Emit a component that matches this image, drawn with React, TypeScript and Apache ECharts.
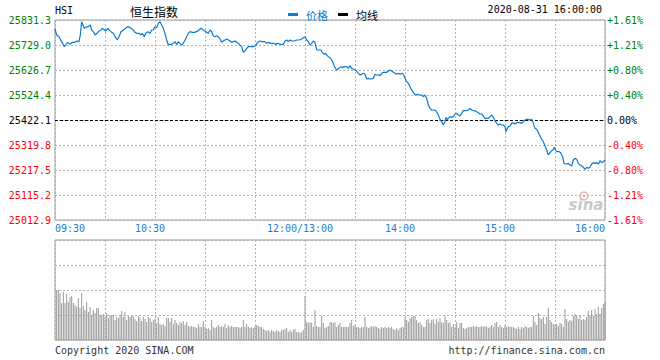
import React, { useEffect, useRef } from 'react';
import * as echarts from 'echarts';

const PREV_CLOSE = 25422.1;
const TITLE = '恒生指数';
const SYMBOL = 'HSI';
const DATE_TEXT = '2020-08-31 16:00:00';
const LEGEND_PRICE = '价格';
const LEGEND_AVG = '均线';
const FOOTER_LEFT = 'Copyright 2020 SINA.COM';
const FOOTER_RIGHT = 'http://finance.sina.com.cn';

// minute offset from 09:30 (lunch break collapsed: 150 = 12:00/13:00)
const timeTickMinutes = [0, 60, 150, 210, 270, 330];
const timeTickLabels = ['09:30', '10:30', '12:00/13:00', '14:00', '15:00', '16:00'];

const priceMinutes = [
  0, 1, 2.4, 4, 5.6, 6.4, 7.6, 9, 10.4, 12, 13.2, 14.4, 15.2, 16, 17.6, 19, 20, 21.2, 22, 23, 24, 25.2, 26.4, 27.6, 28.4, 29.6,
  30.4, 31.6, 32.4, 33.6, 35, 36.4, 37.4, 38.4, 39.6, 41, 42.4, 43.6, 45, 46.4, 47.6, 49, 50.4, 51.6, 52.4, 53.6, 54.4, 55.6,
  57, 58, 59, 60, 61, 62, 63, 64, 65, 66, 67, 68, 69, 70, 71, 72, 73, 74, 75, 76, 77, 78, 79, 80, 81, 82.4, 83.6, 85, 86.4,
  87.6, 89, 90, 91, 92, 93, 94, 95, 96, 97, 98, 99, 100, 101, 102, 103, 104, 105, 106, 107, 108, 109, 110, 111,
  112, 113, 114, 115, 116, 117.6, 119, 120.4, 121.6, 123, 124.4, 126, 127, 128, 129.6, 131, 132, 133.6, 135, 137, 138, 139,
  140, 141, 142, 143.6, 145, 146.4, 148, 149, 150, 151, 152, 153, 154, 155, 156, 157, 158, 159.6, 160.4, 161.6, 162.4, 163,
  164, 165, 166, 167, 168, 169, 170.4, 171.6, 172.4, 173.6, 175, 176, 177, 178, 179, 180, 181, 182, 183, 184, 185, 186, 187,
  188, 189, 190, 191, 192, 193, 194, 195, 196, 197, 198, 199, 200, 201, 202, 203, 204, 205, 206, 207, 208, 209, 210, 211,
  212, 213, 214, 215, 216, 217.6, 219, 220, 221,
  222, 223, 224, 225, 226, 227.4, 228.6, 230, 231, 232, 233, 234, 234.6, 235.4, 236, 237, 238, 239, 240, 241, 242, 243, 244,
  245, 246.6, 248, 249, 250, 251, 252, 253, 254, 255, 256, 257, 258, 259, 260, 261, 262, 263, 264, 265, 266, 267, 268, 269,
  270, 270.6, 271.4, 272, 273, 274, 275, 276, 277, 278, 279, 280, 281, 282, 283, 284, 285, 286, 287, 288, 289, 290, 291, 292,
  293, 294, 295, 296, 297, 298, 299, 299.6, 300.6, 301.4, 302.6, 303.4, 304.6, 305.4, 306.2, 307, 308, 309, 310, 311, 312,
  313, 314, 315, 316, 317, 318, 319, 320, 321, 322, 323, 324, 325, 326, 327, 328, 329, 330,
];

const priceValues = [
  25794.5, 25770.0, 25763.1, 25742.7, 25722.2, 25729.0, 25739.9, 25731.8, 25739.9, 25739.9, 25745.4, 25742.7, 25770.0, 25824.5,
  25797.2, 25804.1, 25804.1, 25810.9, 25790.4, 25783.6, 25770.0, 25776.8, 25786.3, 25790.4, 25797.2, 25790.4,
  25786.3, 25797.2, 25790.4, 25783.6, 25776.8, 25759.0, 25749.5, 25763.1, 25783.6, 25790.4, 25797.2, 25804.1, 25800.0, 25794.5,
  25783.6, 25776.8, 25776.8, 25770.0, 25776.8, 25763.1, 25776.8, 25783.6,
  25776.8, 25790.4, 25790.4, 25804.1, 25800.0, 25817.7, 25824.5, 25810.9, 25797.2, 25776.8, 25749.5, 25729.0, 25731.8, 25731.8,
  25735.8, 25742.7, 25731.8, 25742.7, 25735.8, 25729.0, 25735.8, 25749.5, 25763.1, 25776.8, 25783.6, 25780.8, 25780.8, 25783.6,
  25790.4, 25797.2, 25790.4, 25786.3, 25780.8, 25776.8, 25790.4, 25783.6, 25767.2, 25763.1, 25767.2, 25763.1, 25753.5, 25739.9,
  25745.4, 25749.5, 25753.5, 25749.5, 25745.4, 25739.9, 25742.7, 25745.4, 25739.9, 25735.8, 25729.0,
  25722.2, 25699.0, 25704.5, 25715.4, 25722.2, 25722.2, 25722.2, 25726.3, 25739.9, 25745.4, 25742.7, 25742.7, 25735.8, 25739.9,
  25735.8, 25735.8, 25731.8, 25735.8, 25731.8, 25731.8, 25745.4, 25749.5,
  25742.7, 25749.5, 25745.4, 25745.4, 25749.5, 25749.5, 25753.5, 25759.0, 25763.1, 25749.5, 25742.7, 25729.0, 25735.8, 25745.4,
  25739.9, 25708.6, 25708.6, 25708.6, 25699.0, 25690.8, 25694.9, 25688.1,
  25681.3, 25677.2, 25667.7, 25654.0, 25636.3, 25626.7, 25633.5, 25640.4, 25636.3, 25640.4, 25640.4, 25633.5, 25644.4, 25633.5,
  25630.8, 25626.7, 25622.6, 25613.1, 25606.3, 25609.0, 25613.1, 25609.0, 25589.9,
  25592.6, 25589.9, 25589.9, 25592.6, 25609.0, 25606.3, 25606.3, 25603.5, 25613.1, 25617.2, 25617.2, 25617.2, 25622.6, 25626.7,
  25622.6, 25617.2, 25613.1, 25609.0, 25613.1, 25609.0, 25613.1, 25609.0, 25592.6, 25579.0,
  25572.1, 25558.5, 25544.9, 25535.3, 25524.4, 25527.2, 25524.4, 25524.4, 25517.6,
  25524.4, 25510.8, 25483.5, 25469.8, 25463.0, 25463.0, 25460.3, 25442.6, 25424.8, 25415.3, 25401.6, 25415.3, 25433.0, 25422.1,
  25428.9, 25435.7, 25433.0, 25435.7, 25446.7, 25449.4, 25442.6, 25438.5, 25449.4,
  25460.3, 25460.3, 25463.0, 25469.8, 25463.0, 25460.3, 25460.3, 25456.2, 25452.1, 25446.7, 25446.7, 25438.5, 25428.9, 25428.9,
  25428.9, 25435.7, 25442.6, 25433.0, 25419.4, 25408.5, 25401.6, 25405.7, 25401.6, 25401.6,
  25394.8, 25374.4, 25388.0, 25394.8, 25397.5, 25408.5, 25411.2, 25405.7, 25411.2, 25411.2, 25411.2, 25408.5, 25415.3, 25422.1,
  25424.8, 25424.8, 25422.1, 25424.8, 25408.5, 25388.0, 25383.9, 25370.3, 25356.6, 25343.0,
  25333.4, 25315.7, 25299.2, 25278.9, 25288.4, 25296.6, 25302.1, 25310.3, 25296.6, 25292.5, 25292.5, 25288.4, 25272.1, 25244.8,
  25242.1, 25242.1, 25244.8, 25238.0, 25233.9, 25258.4, 25265.2,
  25261.1, 25244.8, 25238.0, 25233.9, 25228.4, 25220.2, 25228.4, 25224.3, 25228.4, 25242.1, 25247.5, 25244.8, 25247.5, 25242.1,
  25255.7, 25247.5, 25251.6, 25258.4,
];

// volume per minute, minutes 1..330 (relative units)
const volumeValues = [
  50, 50, 47, 37, 48, 37, 46, 38, 43, 44, 37, 35, 33, 42, 32, 47, 34, 30, 38, 28,
  33, 25, 30, 27, 32, 32, 25, 25, 26, 23, 27, 22, 25, 24, 25, 20, 23, 22, 25, 29,
  23, 28, 20, 24, 23, 24, 24, 21, 19, 24, 22, 19, 23, 21, 18, 23, 22, 18, 20, 21,
  17, 23, 16, 15, 16, 14, 22, 22, 18, 22, 16, 20, 17, 15, 18, 17, 19, 15, 18, 14,
  13, 14, 13, 13, 12, 16, 13, 13, 19, 13, 11, 12, 10, 20, 13, 12, 13, 15, 13, 14,
  13, 16, 12, 15, 13, 14, 13, 13, 13, 13, 12, 13, 20, 13, 16, 13, 12, 13, 12, 14,
  15, 14, 13, 13, 11, 10, 9, 10, 8, 10, 9, 8, 10, 9, 8, 10, 10, 11, 12, 8,
  10, 8, 10, 11, 8, 8, 7, 8, 10, 44, 18, 17, 18, 17, 13, 30, 14, 13, 13, 24,
  17, 12, 13, 14, 18, 18, 17, 18, 13, 15, 17, 13, 13, 13, 13, 13, 17, 20, 14, 15,
  13, 13, 12, 13, 13, 23, 13, 12, 13, 14, 13, 14, 13, 12, 11, 13, 12, 13, 12, 13,
  12, 13, 11, 10, 12, 10, 12, 13, 13, 23, 20, 18, 22, 23, 24, 24, 20, 17, 18, 15,
  13, 13, 20, 21, 17, 20, 21, 16, 21, 18, 22, 18, 17, 24, 20, 17, 18, 13, 16, 13,
  18, 12, 17, 17, 12, 11, 12, 13, 13, 13, 14, 13, 14, 13, 13, 14, 13, 14, 13, 12,
  13, 15, 13, 17, 18, 13, 15, 13, 12, 15, 13, 14, 13, 13, 13, 12, 11, 13, 11, 13,
  12, 14, 13, 12, 13, 13, 24, 18, 15, 27, 22, 21, 23, 16, 23, 32, 20, 18, 16, 15,
  16, 14, 17, 16, 13, 31, 21, 18, 20, 19, 24, 26, 24, 21, 25, 20, 21, 20, 23, 29,
  25, 30, 24, 31, 26, 33, 26, 32, 36, 38,
];

const GREEN = '#008000';
const RED = '#ff0000';
const BLUE = '#0a7bd4';
const MONO = 'DejaVu Sans Mono';
const CJK = 'Noto Sans CJK SC';

// y values in tenths of a point relative to previous close
const Y_STEP = 1023;
const Y_MIN = -4 * Y_STEP;
const Y_MAX = 4 * Y_STEP;

const labelColor = (v: any) => {
  const n = Number(v);
  if (n > 0.5) return GREEN;
  if (n < -0.5) return RED;
  return '#000';
};

export default function App() {
  const ref = useRef<HTMLDivElement>(null);

  useEffect(() => {
    if (!ref.current) return;
    const chart = echarts.init(ref.current, undefined, { renderer: 'svg' });

    const priceData = priceMinutes.map((m, i) => [m, Math.round((priceValues[i] - PREV_CLOSE) * 10)]);
    const volData = volumeValues.map((v, i) => [i + 1, v]);

    const dotted = { show: true, lineStyle: { color: '#b4b4b4', type: [2, 2] as any, width: 1 } };

    const timeFmt = (v: number) => {
      const idx = timeTickMinutes.indexOf(Math.round(v));
      if (idx < 0) return '';
      const t = timeTickLabels[idx];
      if (idx === 0 || idx === timeTickLabels.length - 1) return t;
      return '{m|' + t + '}';
    };

    chart.setOption({
      animation: false,
      backgroundColor: '#fff',
      textStyle: { fontFamily: MONO },
      legend: {
        left: 283,
        top: 4,
        icon: 'rect',
        itemWidth: 10,
        itemHeight: 3,
        itemGap: 10,
        selectedMode: false,
        textStyle: { fontFamily: CJK, fontSize: 11, padding: [0, 0, 0, 3] },
        data: [
          { name: LEGEND_PRICE, textStyle: { color: BLUE } },
          { name: LEGEND_AVG, textStyle: { color: '#000' } },
        ],
      },
      grid: [
        { left: 55, top: 20, width: 550, height: 200, show: true, borderColor: '#999', borderWidth: 1, backgroundColor: 'transparent' },
        { left: 55, top: 240, width: 550, height: 100, show: true, borderColor: '#999', borderWidth: 1, backgroundColor: 'transparent' },
      ],
      xAxis: [
        {
          type: 'value',
          gridIndex: 0,
          min: 0,
          max: 330,
          interval: 30,
          axisLine: { show: false },
          axisTick: { show: false },
          splitLine: dotted,
          axisLabel: {
            show: true,
            margin: 3,
            fontFamily: MONO,
            fontSize: 10,
            color: '#1a7fd0',
            showMinLabel: true,
            showMaxLabel: true,
            alignMinLabel: 'left',
            alignMaxLabel: 'right',
            formatter: timeFmt,
            rich: { m: { fontFamily: MONO, fontSize: 10, color: '#1a7fd0', padding: [0, 10, 0, 0] } },
          },
        },
        {
          type: 'value',
          gridIndex: 1,
          min: 0,
          max: 330,
          interval: 30,
          axisLine: { show: false },
          axisTick: { show: false },
          axisLabel: { show: false },
          splitLine: dotted,
        },
      ],
      yAxis: [
        {
          type: 'value',
          gridIndex: 0,
          position: 'left',
          min: Y_MIN,
          max: Y_MAX,
          interval: Y_STEP,
          axisLine: { show: false },
          axisTick: { show: false },
          splitLine: dotted,
          axisLabel: {
            margin: 4,
            fontFamily: MONO,
            fontSize: 10,
            padding: [0, 0, 4, 0],
            color: labelColor,
            formatter: (v: number) => (PREV_CLOSE + v / 10).toFixed(1),
          },
        },
        {
          type: 'value',
          gridIndex: 0,
          position: 'right',
          min: Y_MIN,
          max: Y_MAX,
          interval: Y_STEP,
          axisLine: { show: false },
          axisTick: { show: false },
          splitLine: { show: false },
          axisLabel: {
            margin: 2,
            fontFamily: MONO,
            fontSize: 10,
            padding: [0, 0, 4, 0],
            color: labelColor,
            formatter: (v: number) => {
              const pct = (v / 10 / PREV_CLOSE) * 100;
              if (Math.abs(pct) < 0.001) return '0.00%';
              return (pct > 0 ? '+' : '') + pct.toFixed(2) + '%';
            },
          },
        },
        {
          type: 'value',
          gridIndex: 1,
          min: 0,
          max: 100,
          interval: 25,
          axisLine: { show: false },
          axisTick: { show: false },
          axisLabel: { show: false },
          splitLine: dotted,
        },
      ],
      series: [
        {
          name: LEGEND_PRICE,
          type: 'line',
          xAxisIndex: 0,
          yAxisIndex: 0,
          data: priceData,
          showSymbol: false,
          symbol: 'none',
          color: BLUE,
          lineStyle: { color: BLUE, width: 1.2 },
          z: 5,
          markLine: {
            silent: true,
            symbol: 'none',
            label: { show: false },
            lineStyle: { color: '#000', type: [3, 2] as any, width: 1 },
            data: [{ yAxis: 0 }],
            z: 4,
          },
        },
        {
          name: LEGEND_AVG,
          type: 'line',
          xAxisIndex: 0,
          yAxisIndex: 0,
          data: [],
          color: '#000',
          showSymbol: false,
          lineStyle: { color: '#000', width: 1 },
        },
        {
          name: 'volume',
          type: 'bar',
          xAxisIndex: 1,
          yAxisIndex: 2,
          data: volData,
          barWidth: 1,
          itemStyle: { color: '#999' },
        },
      ],
      graphic: [
        { type: 'text', x: 55, y: 10, style: { text: SYMBOL, font: `10px "${MONO}"`, fill: '#000', verticalAlign: 'middle' } },
        { type: 'text', x: 130, y: 11, style: { text: TITLE, font: `12px "${CJK}"`, fill: '#000', verticalAlign: 'middle' } },
        { type: 'text', x: 602, y: 9, style: { text: DATE_TEXT, font: `10px "${MONO}"`, fill: '#000', align: 'right', verticalAlign: 'middle' } },
        { type: 'text', x: 55, y: 350, style: { text: FOOTER_LEFT, font: `10px "${MONO}"`, fill: '#333', verticalAlign: 'middle' } },
        { type: 'text', x: 605, y: 350, style: { text: FOOTER_RIGHT, font: `10px "${MONO}"`, fill: '#333', align: 'right', verticalAlign: 'middle' } },
        { type: 'circle', shape: { cx: 584, cy: 196, r: 4 }, style: { fill: 'none', stroke: '#f2b0b0', lineWidth: 1.5 } },
        { type: 'circle', shape: { cx: 584, cy: 196, r: 1.5 }, style: { fill: '#f2b0b0' } },
        { type: 'text', x: 586, y: 205, style: { text: 'sina', font: `italic bold 15px "DejaVu Sans"`, fill: '#c8c8c8', align: 'center', verticalAlign: 'middle' } },
      ],
    });

    return () => chart.dispose();
  }, []);

  return <div ref={ref} style={{ position: 'fixed', left: 0, top: 0, width: 660, height: 360 }} />;
}
